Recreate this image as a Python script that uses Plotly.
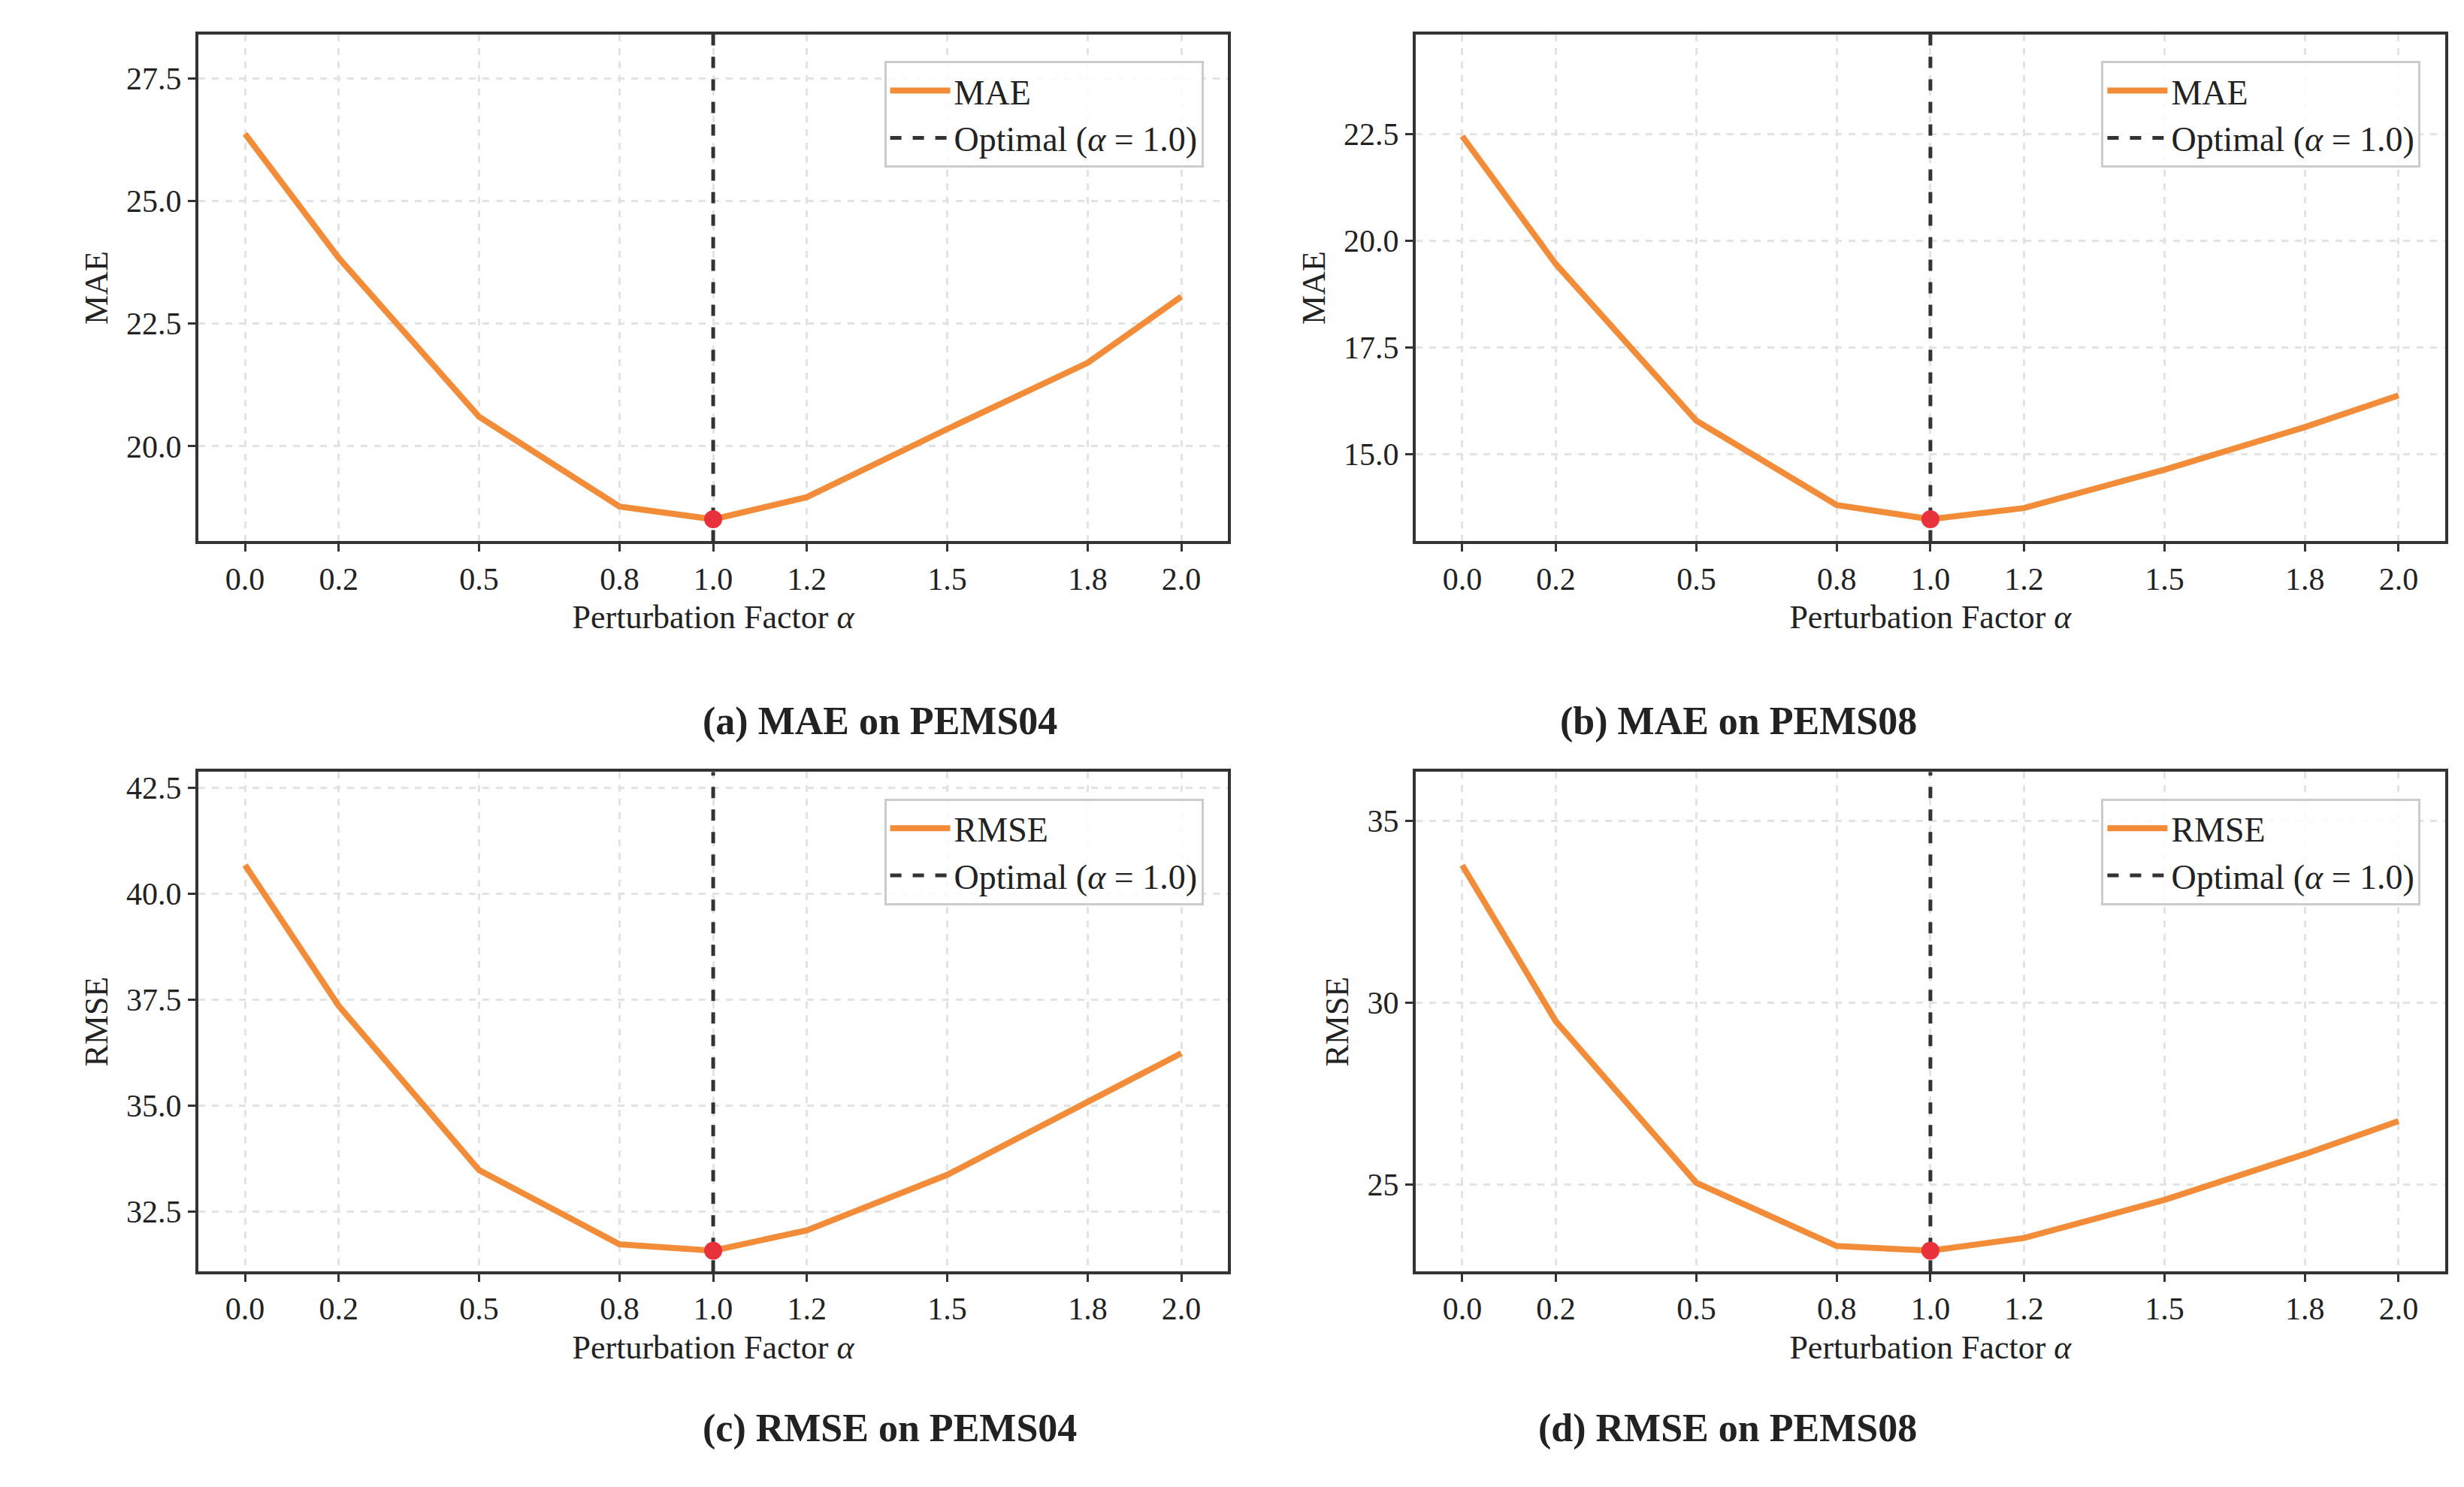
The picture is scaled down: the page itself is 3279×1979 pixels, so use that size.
import plotly.graph_objects as go

alpha = [0.0, 0.2, 0.5, 0.8, 1.0, 1.2, 1.5, 1.8, 2.0]
tick_labels = ["0.0", "0.2", "0.5", "0.8", "1.0", "1.2", "1.5", "1.8", "2.0"]
mae_pems04 = [26.37, 23.84, 20.6, 18.77, 18.51, 18.96, 20.35, 21.7, 23.05]
mae_pems08 = [22.45, 19.45, 15.78, 13.8, 13.47, 13.73, 14.63, 15.63, 16.37]
rmse_pems04 = [40.67, 37.35, 33.47, 31.72, 31.57, 32.05, 33.36, 35.07, 36.23]
rmse_pems08 = [33.78, 29.48, 25.04, 23.3, 23.17, 23.52, 24.57, 25.83, 26.74]
optimal_alpha = 1.0

panels = [
    dict(y=mae_pems04, name="MAE", yr=[18.06, 28.4], yt=[20, 22.5, 25, 27.5], ytl=["20.0", "22.5", "25.0", "27.5"],
         xd=[0.078, 0.496], yd=[0.640, 0.981], title="(a) MAE on PEMS04"),
    dict(y=mae_pems08, name="MAE", yr=[12.95, 24.84], yt=[15, 17.5, 20, 22.5], ytl=["15.0", "17.5", "20.0", "22.5"],
         xd=[0.572, 0.990], yd=[0.640, 0.981], title="(b) MAE on PEMS08"),
    dict(y=rmse_pems04, name="RMSE", yr=[31.08, 42.87], yt=[32.5, 35, 37.5, 40, 42.5],
         ytl=["32.5", "35.0", "37.5", "40.0", "42.5"], xd=[0.078, 0.496], yd=[0.149, 0.485], title="(c) RMSE on PEMS04"),
    dict(y=rmse_pems08, name="RMSE", yr=[22.6, 36.35], yt=[25, 30, 35], ytl=["25", "30", "35"],
         xd=[0.572, 0.990], yd=[0.149, 0.485], title="(d) RMSE on PEMS08"),
]

FONT = "Liberation Serif"
ORANGE = "#F28C38"
fig = go.Figure()
layout = dict(width=3279, height=1979, margin=dict(l=0, r=0, t=0, b=0),
              paper_bgcolor="white", plot_bgcolor="white",
              font=dict(family=FONT, size=42, color="#222"), annotations=[])

for i, p in enumerate(panels):
    n = i + 1
    xa = "x" if n == 1 else f"x{n}"
    ya = "y" if n == 1 else f"y{n}"
    lg = "legend" if n == 1 else f"legend{n}"
    fig.add_trace(go.Scatter(x=alpha, y=p["y"], mode="lines", name=p["name"],
                             line=dict(color=ORANGE, width=8), xaxis=xa, yaxis=ya, legend=lg))
    fig.add_trace(go.Scatter(x=[optimal_alpha, optimal_alpha], y=p["yr"], mode="lines",
                             name="Optimal (<i>α</i> = 1.0)", line=dict(color="#333", width=5, dash="dash"),
                             xaxis=xa, yaxis=ya, legend=lg))
    idx = alpha.index(optimal_alpha)
    fig.add_trace(go.Scatter(x=[optimal_alpha], y=[p["y"][idx]], mode="markers", showlegend=False,
                             marker=dict(color="#E8313A", size=24), xaxis=xa, yaxis=ya))
    axcommon = dict(showline=True, mirror=True, linecolor="#333", linewidth=3.5, ticks="outside",
                    ticklen=10, tickwidth=3, tickcolor="#333", showgrid=True, gridcolor="#e3e3e3",
                    griddash="dash", gridwidth=2.5, zeroline=False, tickfont=dict(size=42))
    layout["xaxis" if n == 1 else f"xaxis{n}"] = dict(
        domain=p["xd"], anchor=ya, range=[-0.1, 2.1], tickvals=alpha, ticktext=tick_labels,
        title=dict(text="Perturbation Factor <i>α</i>", font=dict(size=44), standoff=14), **axcommon)
    layout["yaxis" if n == 1 else f"yaxis{n}"] = dict(
        domain=p["yd"], anchor=xa, range=p["yr"], tickvals=p["yt"], ticktext=p["ytl"],
        title=dict(text=p["name"], font=dict(size=44), standoff=12), **axcommon)
    layout[lg] = dict(x=p["xd"][1] - 0.01, y=p["yd"][1] - 0.018, xanchor="right", yanchor="top",
                      bgcolor="rgba(255,255,255,0.85)", bordercolor="#ccc", borderwidth=3,
                      itemwidth=80, tracegroupgap=10,
                      font=dict(size=46, family=FONT))
    layout["annotations"].append(dict(text=f"<b>{p['title']}</b>", x=sum(p["xd"]) / 2 - 0.005,
                                      y=p["yd"][0] - 0.121, xref="paper", yref="paper",
                                      showarrow=False, font=dict(size=52, family=FONT, color="#222")))

fig.update_layout(**layout)
fig.write_html("out.html")
